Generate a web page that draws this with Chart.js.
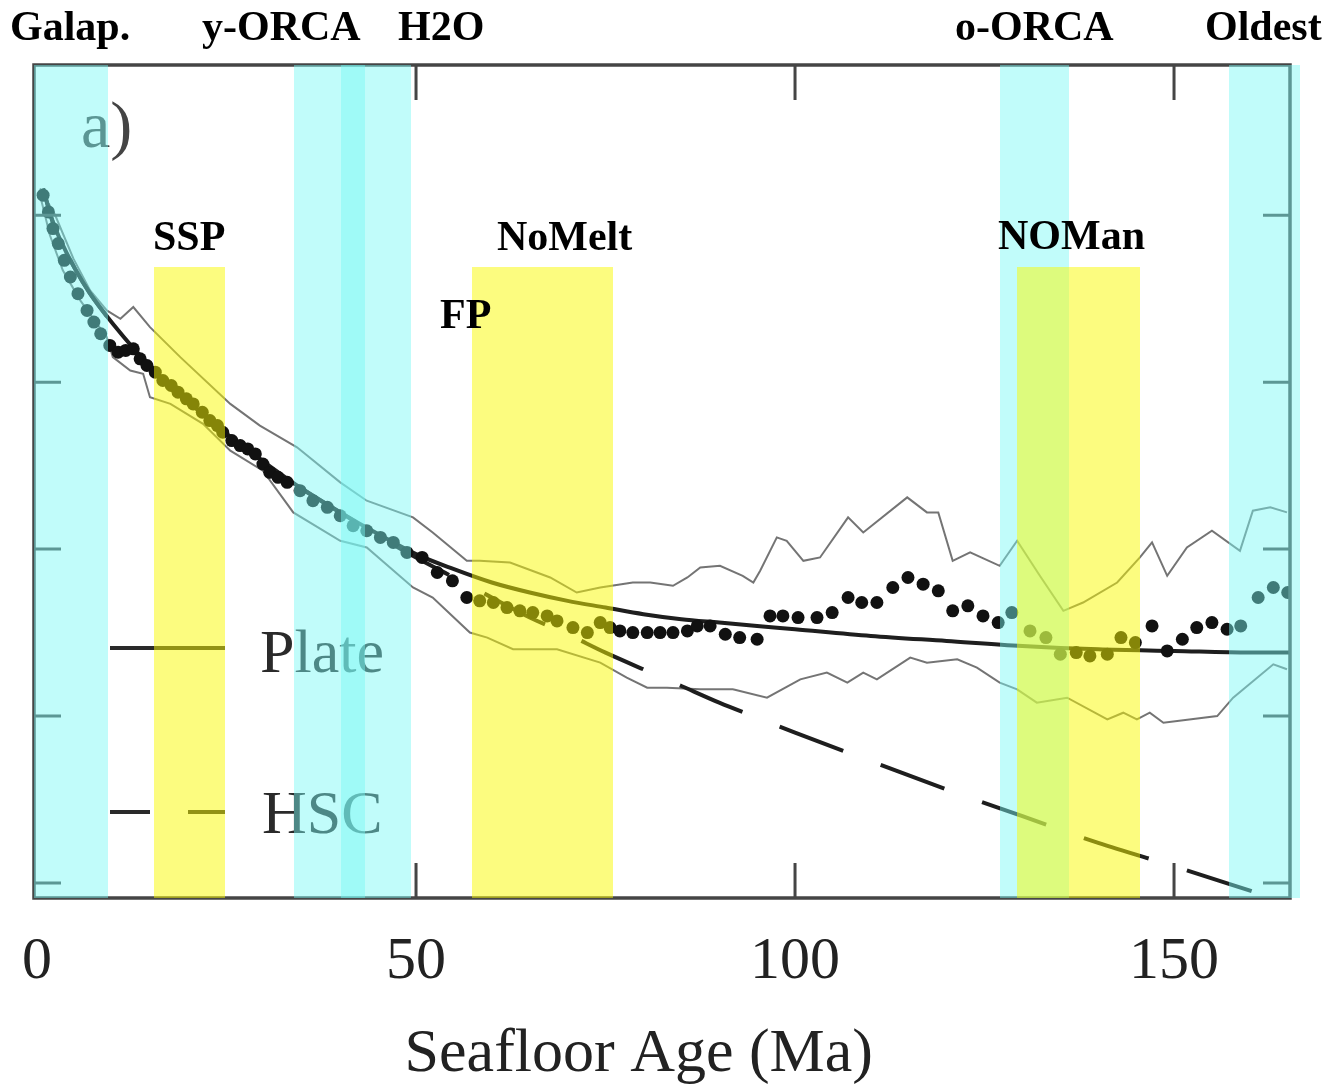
<!DOCTYPE html>
<html>
<head>
<meta charset="utf-8">
<script src="https://cdn.jsdelivr.net/npm/chart.js@4.4.1/dist/chart.umd.min.js"></script>
<style>
  html, body { margin: 0; padding: 0; background: #fff; }
  canvas { display: block; }
</style>
</head>
<body>
<canvas id="chart" width="1327" height="1090"></canvas>
<script>
// binned means (dots)
const dotAge = [0.8,1.5,2.1,2.8,3.6,4.4,5.4,6.6,7.5,8.4,
  9.6,10.7,11.7,12.7,13.6,14.5,15.6,16.6,17.7,18.6,
  19.7,20.6,21.8,22.8,23.8,24.5,25.7,26.8,27.8,28.8,
  29.8,30.7,31.8,33.0,34.7,36.4,38.3,40.0,41.7,43.5,
  45.3,47.0,48.8,50.8,52.8,54.8,56.7,58.4,60.2,62.0,
  63.7,65.4,67.3,68.6,70.7,72.6,74.3,75.6,76.9,78.6,
  80.5,82.2,83.9,85.8,87.1,88.8,90.8,92.7,95.0,96.7,
  98.4,100.4,102.9,104.9,107.0,108.8,110.8,112.9,114.9,116.9,
  118.9,120.8,122.8,124.8,126.8,128.6,131.0,133.1,135.0,137.1,
  138.9,141.2,143.0,144.9,147.1,149.1,151.1,153.0,155.0,157.0,
  158.8,161.1,163.1,165.0];
const dotVal = [4.12,4.02,3.92,3.83,3.73,3.63,3.53,3.43,3.36,3.29,
  3.22,3.18,3.19,3.20,3.14,3.10,3.06,3.01,2.98,2.94,
  2.90,2.87,2.82,2.77,2.74,2.70,2.65,2.62,2.60,2.57,
  2.51,2.46,2.43,2.40,2.35,2.29,2.25,2.20,2.14,2.11,
  2.07,2.04,1.98,1.95,1.86,1.81,1.71,1.69,1.68,1.65,
  1.63,1.62,1.60,1.57,1.53,1.50,1.56,1.53,1.51,1.50,
  1.50,1.50,1.50,1.51,1.54,1.54,1.49,1.47,1.46,1.60,
  1.60,1.59,1.59,1.62,1.71,1.68,1.68,1.77,1.83,1.79,
  1.75,1.63,1.66,1.60,1.56,1.62,1.51,1.47,1.37,1.38,
  1.36,1.37,1.47,1.44,1.54,1.39,1.46,1.53,1.56,1.52,
  1.54,1.71,1.77,1.74];

// +/- one std envelope
const upperAge = [0.4,2.4,4.8,7.0,9.2,11.0,12.7,14.9,18.9,25.5,
  29.4,34.3,40.0,43.5,49.6,52.2,56.7,58.4,62.4,67.7,
  71.2,74.3,78.6,80.9,83.9,85.8,87.5,90.1,93.1,94.5,
  95.4,97.6,98.9,101.1,103.3,107.0,109.0,114.8,117.4,118.9,
  120.8,123.1,127.0,129.3,132.3,135.4,138.0,142.5,145.5,147.1,
  149.1,151.7,155.0,158.7,160.4,162.7,164.9];
const upperVal = [4.16,4.00,3.74,3.55,3.43,3.38,3.45,3.33,3.15,2.87,
  2.74,2.61,2.40,2.29,2.19,2.10,1.93,1.93,1.92,1.83,
  1.74,1.77,1.80,1.80,1.78,1.83,1.89,1.90,1.84,1.80,
  1.87,2.07,2.05,1.93,1.95,2.19,2.10,2.31,2.22,2.22,
  1.93,1.98,1.90,2.05,1.84,1.63,1.68,1.80,1.95,2.04,
  1.84,2.01,2.11,1.99,2.23,2.25,2.22];
const lowerAge = [0.4,1.7,3.4,5.7,9.2,10.0,12.3,14.0,14.9,17.6,
  21.9,25.5,29.8,33.8,40.0,43.5,49.6,52.2,57.1,59.4,
  62.8,68.6,74.3,77.8,80.5,83.1,87.5,91.8,96.3,100.7,
  104.2,106.9,109.0,110.8,115.2,117.4,121.4,124.0,127.0,129.3,
  131.9,135.9,141.2,143.3,145.1,146.8,148.6,155.7,157.8,163.1,
  164.9];
const lowerVal = [4.12,3.88,3.67,3.49,3.27,3.15,3.07,3.05,2.91,2.87,
  2.75,2.59,2.47,2.22,2.05,2.01,1.77,1.71,1.50,1.47,
  1.40,1.40,1.32,1.23,1.17,1.17,1.16,1.16,1.11,1.22,
  1.26,1.20,1.26,1.22,1.35,1.32,1.34,1.29,1.20,1.16,
  1.08,1.11,0.98,1.02,0.98,1.02,0.96,1.00,1.11,1.31,
  1.28];

// cooling models
const plateAge = [0.8,2,3,5,7,10,15,20,25,30,35,40,45,50,55,60,65,70,75,80,85,90,95,100,110,120,130,140,150,160,165.3];
const plateVal = [4.16,3.97,3.86,3.68,3.53,3.35,3.09,2.88,2.69,2.52,2.36,2.22,2.09,1.97,1.88,1.80,1.74,1.69,1.65,1.61,1.58,1.56,1.54,1.52,1.48,1.45,1.42,1.40,1.39,1.38,1.38];
const hscAge = [0.8,2,3,5,7,10,15,20,25,30,35,40,45,50,55,60,65,70,75,80,85,90,95,100,110,120,130,140,150,161];
const hscVal = [4.16,3.97,3.86,3.68,3.53,3.35,3.09,2.88,2.69,2.52,2.36,2.22,2.08,1.95,1.83,1.71,1.59,1.49,1.38,1.28,1.18,1.08,0.99,0.90,0.73,0.56,0.40,0.24,0.10,-0.06];

const xTicks = [0, 50, 100, 150];
const yTicks = [0, 1, 2, 3, 4];

// study regions (Ma)
const bandNames = ['Galap.', 'y-ORCA', 'H2O', 'o-ORCA', 'Oldest', 'SSP', 'FP', 'NoMelt', 'NOMan'];
const bandStart = [-0.4, 33.9, 40.1, 127.0, 157.3, 15.4, 57.4, 66.9, 129.3];
const bandEnd   = [9.4, 43.3, 49.3, 136.1, 166.6, 24.8, 66.9, 76.0, 145.5];
const bandKind  = ['cyan', 'cyan', 'cyan', 'cyan', 'cyan', 'yellow', 'yellow', 'yellow', 'yellow'];
const yellowTop = 3.69;

const serif = '"Liberation Serif", "Times New Roman", serif';
const pts = (xs, ys) => xs.map((v, i) => ({ x: v, y: ys[i] }));

const decor = {
  id: 'decor',
  afterDatasetsDraw(chart) {
    const { ctx, chartArea: a, scales: { x, y } } = chart;
    ctx.save();

    // frame + inward ticks
    ctx.strokeStyle = '#454545';
    ctx.lineWidth = 3.5;
    ctx.strokeRect(a.left, a.top, a.right - a.left, a.bottom - a.top);
    ctx.lineWidth = 3;
    ctx.beginPath();
    xTicks.filter(v => v > 0).forEach(v => {
      const px = x.getPixelForValue(v);
      ctx.moveTo(px, a.top); ctx.lineTo(px, a.top + 35);
      ctx.moveTo(px, a.bottom); ctx.lineTo(px, a.bottom - 35);
    });
    yTicks.forEach(v => {
      const py = y.getPixelForValue(v);
      ctx.moveTo(a.left, py); ctx.lineTo(a.left + 27, py);
      ctx.moveTo(a.right, py); ctx.lineTo(a.right - 27, py);
    });
    ctx.stroke();

    // legend
    ctx.strokeStyle = '#2a2a2a';
    ctx.lineWidth = 4;
    ctx.beginPath();
    ctx.moveTo(a.left + 76, a.top + 583); ctx.lineTo(a.left + 191, a.top + 583);
    ctx.moveTo(a.left + 76, a.top + 747); ctx.lineTo(a.left + 116, a.top + 747);
    ctx.moveTo(a.left + 154, a.top + 747); ctx.lineTo(a.left + 191, a.top + 747);
    ctx.stroke();
    ctx.fillStyle = '#2a2a2a';
    ctx.font = '62px ' + serif;
    ctx.textBaseline = 'alphabetic';
    ctx.fillText('Plate', a.left + 226, a.top + 607);
    ctx.fillText('HSC', a.left + 228, a.top + 768);

    // panel letter
    ctx.fillStyle = '#444';
    ctx.font = '66px ' + serif;
    ctx.fillText('a)', a.left + 47, a.top + 82);

    // shaded regions, drawn over the data
    ['cyan', 'yellow'].forEach(kind => {
      ctx.fillStyle = kind === 'cyan' ? 'rgba(120,248,245,0.46)' : 'rgba(250,250,0,0.5)';
      bandKind.forEach((k, i) => {
        if (k !== kind) return;
        const x0 = Math.round(x.getPixelForValue(bandStart[i]));
        const x1 = Math.round(x.getPixelForValue(bandEnd[i]));
        const top = kind === 'cyan' ? a.top : Math.round(y.getPixelForValue(yellowTop));
        ctx.fillRect(x0, top, x1 - x0, a.bottom - top);
      });
    });

    // region labels
    ctx.fillStyle = '#000';
    ctx.font = 'bold 42px ' + serif;
    const labels = [
      ['Galap.', 10, 40], ['y-ORCA', 202, 40], ['H2O', 398, 40], ['o-ORCA', 955, 40], ['Oldest', 1205, 40],
      ['SSP', 153, 250], ['NoMelt', 497, 250], ['FP', 440, 328], ['NOMan', 998, 249]
    ];
    labels.forEach(([t, lx, ly]) => ctx.fillText(t, lx, ly));
    ctx.restore();
  }
};

new Chart(document.getElementById('chart'), {
  type: 'scatter',
  data: {
    datasets: [
      { label: 'Mean', data: pts(dotAge, dotVal), showLine: false,
        pointRadius: 6.5, pointBackgroundColor: '#111', pointBorderWidth: 0 },
      { label: 'Plate', data: pts(plateAge, plateVal), showLine: true, pointRadius: 0,
        borderColor: '#1e1e1e', borderWidth: 4, cubicInterpolationMode: 'monotone' },
      { label: 'HSC', data: pts(hscAge, hscVal), showLine: true, pointRadius: 0,
        borderColor: '#1e1e1e', borderWidth: 4, borderDash: [68, 40], borderDashOffset: 32,
        cubicInterpolationMode: 'monotone' },
      { label: 'Upper', data: pts(upperAge, upperVal), showLine: true, pointRadius: 0,
        borderColor: 'rgba(70,70,70,0.75)', borderWidth: 2 },
      { label: 'Lower', data: pts(lowerAge, lowerVal), showLine: true, pointRadius: 0,
        borderColor: 'rgba(70,70,70,0.75)', borderWidth: 2 }
    ]
  },
  options: {
    responsive: false,
    animation: false,
    devicePixelRatio: 1,
    layout: { padding: { left: 34, right: 37, top: 65, bottom: 0 } },
    plugins: { legend: { display: false }, tooltip: { enabled: false } },
    scales: {
      x: {
        type: 'linear', position: 'bottom', min: -0.4, max: 165.3,
        afterBuildTicks: s => { s.ticks = xTicks.map(v => ({ value: v })); },
        afterFit: s => { s.height = 192; s.paddingLeft = 0; s.paddingRight = 0; },
        grid: { display: false, drawTicks: false },
        border: { display: false },
        ticks: { color: '#222', padding: 34, maxRotation: 0, autoSkip: false,
          font: { family: serif, size: 60, lineHeight: 1 } },
        title: { display: true, text: 'Seafloor Age (Ma)\u00A0\u00A0\u00A0', color: '#222',
          font: { family: serif, size: 62, lineHeight: 1 }, padding: { top: 0, bottom: 4 } }
      },
      y: { display: false, min: -0.09, max: 4.90 }
    }
  },
  plugins: [decor]
});
</script>
</body>
</html>
